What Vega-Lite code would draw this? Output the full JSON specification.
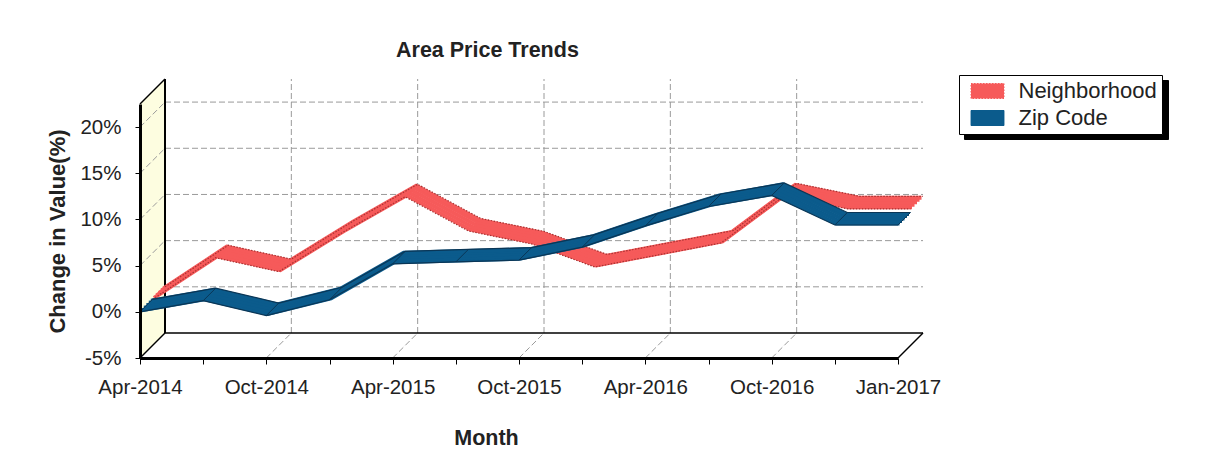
{
  "$schema": "https://vega.github.io/schema/vega-lite/v6.json",
  "width": 758,
  "height": 254,
  "autosize": {"type": "none"},
  "padding": {"left": 140, "top": 104, "right": 307, "bottom": 108},
  "background": "white",
  "title": {
    "text": "Area Price Trends",
    "anchor": "start",
    "frame": "group",
    "dx": 256,
    "offset": -4,
    "baseline": "alphabetic",
    "font": "Liberation Sans",
    "fontSize": 21.5,
    "fontWeight": "bold",
    "color": "#222222"
  },
  "datasets": {
    "trend": [
      {"Month": "Apr-2014", "i": 0, "Series": "Neighborhood", "Change": 0},
      {"Month": "Jul-2014", "i": 1, "Series": "Neighborhood", "Change": 4.5},
      {"Month": "Oct-2014", "i": 2, "Series": "Neighborhood", "Change": 3.0},
      {"Month": "Jan-2015", "i": 3, "Series": "Neighborhood", "Change": 7.2},
      {"Month": "Apr-2015", "i": 4, "Series": "Neighborhood", "Change": 11.1},
      {"Month": "Jul-2015", "i": 5, "Series": "Neighborhood", "Change": 7.4},
      {"Month": "Oct-2015", "i": 6, "Series": "Neighborhood", "Change": 6.0},
      {"Month": "Jan-2016", "i": 7, "Series": "Neighborhood", "Change": 3.5},
      {"Month": "Apr-2016", "i": 8, "Series": "Neighborhood", "Change": 4.8},
      {"Month": "Jul-2016", "i": 9, "Series": "Neighborhood", "Change": 6.1},
      {"Month": "Oct-2016", "i": 10, "Series": "Neighborhood", "Change": 11.2},
      {"Month": "Dec-2016", "i": 11, "Series": "Neighborhood", "Change": 9.8},
      {"Month": "Jan-2017", "i": 12, "Series": "Neighborhood", "Change": 9.8},
      {"Month": "Apr-2014", "i": 0, "Series": "Zip Code", "Change": 0},
      {"Month": "Jul-2014", "i": 1, "Series": "Zip Code", "Change": 1.2},
      {"Month": "Oct-2014", "i": 2, "Series": "Zip Code", "Change": -0.4},
      {"Month": "Jan-2015", "i": 3, "Series": "Zip Code", "Change": 1.3},
      {"Month": "Apr-2015", "i": 4, "Series": "Zip Code", "Change": 5.2},
      {"Month": "Jul-2015", "i": 5, "Series": "Zip Code", "Change": 5.4},
      {"Month": "Oct-2015", "i": 6, "Series": "Zip Code", "Change": 5.6},
      {"Month": "Jan-2016", "i": 7, "Series": "Zip Code", "Change": 7.0},
      {"Month": "Apr-2016", "i": 8, "Series": "Zip Code", "Change": 9.3},
      {"Month": "Jul-2016", "i": 9, "Series": "Zip Code", "Change": 11.4},
      {"Month": "Oct-2016", "i": 10, "Series": "Zip Code", "Change": 12.6},
      {"Month": "Dec-2016", "i": 11, "Series": "Zip Code", "Change": 9.4},
      {"Month": "Jan-2017", "i": 12, "Series": "Zip Code", "Change": 9.4}
    ]
  },
  "layer": [
    {
      "data": {"values": [{"i": 0, "lo": -5, "hi": 22.5}, {"i": 0.3958, "lo": -2.2933, "hi": 25.2067}]},
      "mark": {"type": "area", "color": "#fdfde0", "opacity": 1},
      "encoding": {
        "x": {
          "field": "i", "type": "quantitative",
          "scale": {"domain": [0, 12], "nice": false, "zero": false},
          "axis": {
            "title": "Month",
            "values": [0, 0.5, 1, 1.5, 2, 2.5, 3, 3.5, 4, 4.5, 5, 5.5, 6, 6.5, 7, 7.5, 8, 8.5, 9, 9.5, 10, 10.5, 11, 11.5, 12],
            "labelExpr": "datum.value % 2 === 0 ? ['Apr-2014','Oct-2014','Apr-2015','Oct-2015','Apr-2016','Oct-2016','Jan-2017'][datum.value / 2] : ''",
            "grid": false,
            "domainColor": "#000000", "domainWidth": 3,
            "tickColor": "#000000", "tickSize": 6, "tickWidth": 1,
            "labelFont": "Liberation Sans", "labelFontSize": 20.5, "labelColor": "#222222",
            "labelPadding": 13, "labelFlush": false, "labelOverlap": false,
            "titleFont": "Liberation Sans", "titleFontSize": 21.5, "titleFontWeight": "bold", "titleColor": "#222222",
            "titlePadding": 30, "titleX": 346,
            "zindex": 1
          }
        },
        "y": {
          "field": "lo", "type": "quantitative",
          "scale": {"domain": [-5, 22.5], "nice": false, "zero": false},
          "axis": {
            "title": "Change in Value(%)",
            "values": [-5, -3.75, -2.5, -1.25, 0, 1.25, 2.5, 3.75, 5, 6.25, 7.5, 8.75, 10, 11.25, 12.5, 13.75, 15, 16.25, 17.5, 18.75, 20, 21.25, 22.5],
            "labelExpr": "datum.value % 5 === 0 ? datum.value + '%' : ''",
            "grid": false,
            "domainColor": "#000000", "domainWidth": 3,
            "tickColor": "#000000", "tickSize": 5, "tickWidth": 1,
            "labelFont": "Liberation Sans", "labelFontSize": 20.5, "labelColor": "#222222",
            "labelPadding": 14, "labelOverlap": false, "labelFlush": false,
            "titleFont": "Liberation Sans", "titleFontSize": 22, "titleFontWeight": "bold", "titleColor": "#222222",
            "titlePadding": 10,
            "zindex": 1
          }
        },
        "y2": {"field": "hi"}
      }
    },
    {
      "data": {"values": [{"v": 0}, {"v": 5}, {"v": 10}, {"v": 15}, {"v": 20}]},
      "mark": {"type": "rule", "color": "#9a9a9a", "strokeDash": [6, 3], "strokeWidth": 1, "xOffset": 25, "x2Offset": 25, "yOffset": -25},
      "encoding": {
        "y": {"field": "v", "type": "quantitative"},
        "x": {"datum": 0, "type": "quantitative"},
        "x2": {"datum": 12}
      }
    },
    {
      "data": {"values": [{"t": 2}, {"t": 4}, {"t": 6}, {"t": 8}, {"t": 10}]},
      "mark": {"type": "rule", "color": "#9a9a9a", "strokeDash": [6, 3], "strokeWidth": 1, "xOffset": 25, "yOffset": -25, "y2Offset": -25},
      "encoding": {
        "x": {"field": "t", "type": "quantitative"},
        "y": {"datum": -5, "type": "quantitative"},
        "y2": {"datum": 22.5}
      }
    },
    {
      "data": {"values": [{"v": 0}, {"v": 5}, {"v": 10}, {"v": 15}, {"v": 20}]},
      "mark": {"type": "rule", "color": "#9a9a9a", "strokeDash": [6, 3], "strokeWidth": 1, "x2Offset": 25, "y2Offset": -25},
      "encoding": {
        "x": {"datum": 0, "type": "quantitative"},
        "x2": {"datum": 0},
        "y": {"field": "v", "type": "quantitative"},
        "y2": {"field": "v"}
      }
    },
    {
      "data": {"values": [{"t": 2}, {"t": 4}, {"t": 6}, {"t": 8}, {"t": 10}]},
      "mark": {"type": "rule", "color": "#9a9a9a", "strokeDash": [6, 3], "strokeWidth": 1, "x2Offset": 25, "y2Offset": -25},
      "encoding": {
        "x": {"field": "t", "type": "quantitative"},
        "x2": {"field": "t"},
        "y": {"datum": -5, "type": "quantitative"},
        "y2": {"datum": -5}
      }
    },
    {
      "data": {"values": [{"t": 0, "v": -5}, {"t": 0, "v": 22.5}, {"t": 12, "v": -5}]},
      "mark": {"type": "rule", "color": "#000000", "strokeWidth": 1.5, "x2Offset": 25, "y2Offset": -25},
      "encoding": {
        "x": {"field": "t", "type": "quantitative"},
        "x2": {"field": "t"},
        "y": {"field": "v", "type": "quantitative"},
        "y2": {"field": "v"}
      }
    },
    {
      "data": {"values": [{}]},
      "mark": {"type": "rule", "color": "#000000", "strokeWidth": 2, "xOffset": 25, "yOffset": -25, "y2Offset": -25},
      "encoding": {
        "x": {"datum": 0, "type": "quantitative"},
        "y": {"datum": -5, "type": "quantitative"},
        "y2": {"datum": 22.5}
      }
    },
    {
      "data": {"values": [{}]},
      "mark": {"type": "rule", "color": "#000000", "strokeWidth": 1.5, "xOffset": 25, "x2Offset": 25, "yOffset": -25},
      "encoding": {
        "y": {"datum": -5, "type": "quantitative"},
        "x": {"datum": 0, "type": "quantitative"},
        "x2": {"datum": 12}
      }
    },
    {
      "data": {"name": "trend"},
      "transform": [{"filter": "datum.Series === 'Neighborhood'"}],
      "encoding": {
        "x": {"field": "i", "type": "quantitative"},
        "y": {"field": "Change", "type": "quantitative"}
      },
      "layer": [
        {"mark": {"type": "line", "strokeWidth": 4, "xOffset": 14, "yOffset": -14}, "encoding": {"color": {"field": "Series", "type": "nominal",
          "scale": {"domain": ["Neighborhood", "Zip Code"], "range": ["#f65a5a", "#0b5b8c"]},
          "legend": {
            "title": null, "orient": "none", "legendX": 819, "legendY": -29, "zindex": 2,
            "fillColor": "#ffffff", "strokeColor": "#000000", "padding": 5,
            "symbolOffset": 12.5, "symbolType": "M-1.65,-0.75H1.65V0.75H-1.65Z", "symbolSize": 400,
            "symbolOpacity": 1, "symbolStrokeWidth": 1,
            "labelOffset": 20, "labelFont": "Liberation Sans", "labelFontSize": 22, "labelColor": "#222222",
            "rowPadding": 5,
            "encode": {
              "symbols": {
                "update": {
                  "fill": {"scale": "color", "field": "value"},
                  "fillOpacity": {"value": 1},
                  "opacity": {"value": 1},
                  "stroke": {"signal": "datum.value === 'Neighborhood' ? '#a83232' : '#0a3656'"},
                  "strokeDash": {"signal": "datum.value === 'Neighborhood' ? [1.5, 1.5] : [1, 0]"}
                }
              }
            }
          }}}},
        {"mark": {"type": "line", "strokeWidth": 4, "xOffset": 16.5, "yOffset": -16.5}, "encoding": {"color": {"field": "Series", "type": "nominal"}}},
        {"mark": {"type": "line", "strokeWidth": 4, "xOffset": 19, "yOffset": -19}, "encoding": {"color": {"field": "Series", "type": "nominal"}}},
        {"mark": {"type": "line", "strokeWidth": 4, "xOffset": 21.5, "yOffset": -21.5}, "encoding": {"color": {"field": "Series", "type": "nominal"}}},
        {"mark": {"type": "line", "strokeWidth": 4, "xOffset": 23.5, "yOffset": -23.5}, "encoding": {"color": {"field": "Series", "type": "nominal"}}},
        {"mark": {"type": "line", "strokeWidth": 1.2, "color": "#a83232", "strokeDash": [1.5, 1.5], "xOffset": 12.5, "yOffset": -12.5}},
        {"mark": {"type": "line", "strokeWidth": 1.2, "color": "#a83232", "strokeDash": [1.5, 1.5], "xOffset": 25, "yOffset": -25}}
      ]
    },
    {
      "data": {"name": "trend"},
      "transform": [{"filter": "datum.Series === 'Zip Code'"}],
      "encoding": {
        "x": {"field": "i", "type": "quantitative"},
        "y": {"field": "Change", "type": "quantitative"}
      },
      "layer": [
        {"mark": {"type": "line", "strokeWidth": 4, "xOffset": 1.5, "yOffset": -1.5}, "encoding": {"color": {"field": "Series", "type": "nominal"}}},
        {"mark": {"type": "line", "strokeWidth": 4, "xOffset": 4, "yOffset": -4}, "encoding": {"color": {"field": "Series", "type": "nominal"}}},
        {"mark": {"type": "line", "strokeWidth": 4, "xOffset": 6.5, "yOffset": -6.5}, "encoding": {"color": {"field": "Series", "type": "nominal"}}},
        {"mark": {"type": "line", "strokeWidth": 4, "xOffset": 9, "yOffset": -9}, "encoding": {"color": {"field": "Series", "type": "nominal"}}},
        {"mark": {"type": "line", "strokeWidth": 4, "xOffset": 11, "yOffset": -11}, "encoding": {"color": {"field": "Series", "type": "nominal"}}},
        {"mark": {"type": "line", "strokeWidth": 1.2, "color": "#0a3656", "xOffset": 0, "yOffset": 0}},
        {"mark": {"type": "line", "strokeWidth": 1.2, "color": "#0a3656", "xOffset": 12.5, "yOffset": -12.5}},
        {"mark": {"type": "rule", "strokeWidth": 1, "color": "#0a3656", "x2Offset": 12.5, "y2Offset": -12.5}, "encoding": {"x2": {"field": "i"}, "y2": {"field": "Change"}}}
      ]
    },
    {
      "data": {"name": "trend"},
      "mark": {"type": "point", "opacity": 0, "filled": true},
      "encoding": {
        "x": {"field": "i", "type": "quantitative"},
        "y": {"field": "Change", "type": "quantitative"},
        "shape": {
          "field": "Series", "type": "nominal",
          "scale": {"domain": ["Zip Code", "Neighborhood"]},
          "legend": {
            "title": null, "orient": "none", "legendX": 824, "legendY": -24, "zindex": 1,
            "fillColor": "#000000", "strokeColor": "#000000", "padding": 5,
            "symbolOffset": 12.5, "symbolSize": 400, "symbolOpacity": 0,
            "labelOffset": 159.5, "labelFont": "Liberation Sans", "labelFontSize": 22, "labelColor": "#000000",
            "labelExpr": "''",
            "rowPadding": 5
          }
        }
      }
    }
  ],
  "config": {
    "view": {"stroke": null},
    "font": "Liberation Sans"
  }
}
